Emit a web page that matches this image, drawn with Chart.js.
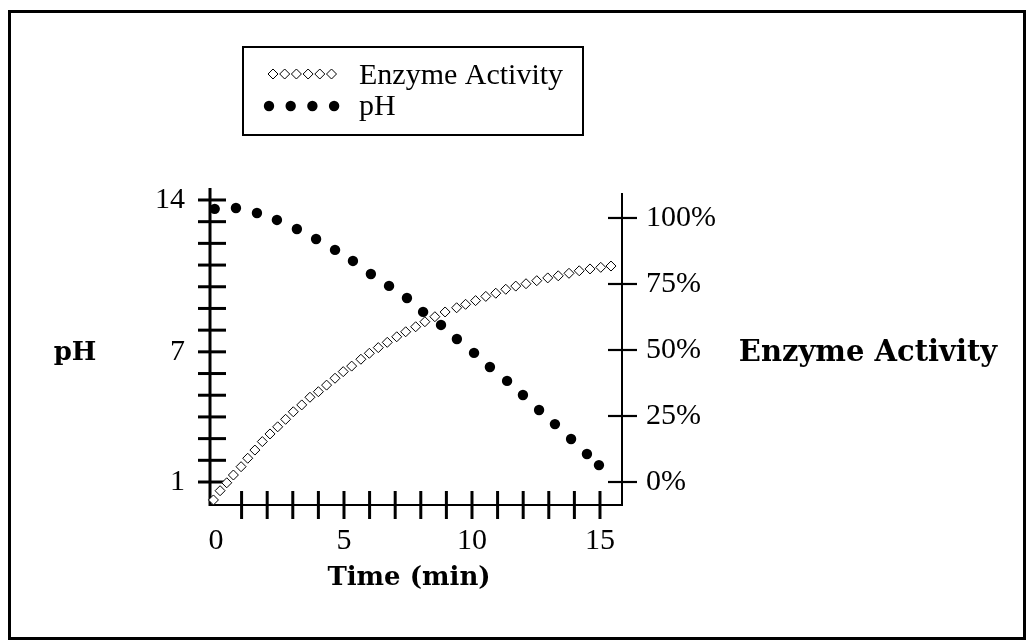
<!DOCTYPE html>
<html><head><meta charset="utf-8">
<script src="https://cdn.jsdelivr.net/npm/chart.js@4.4.1/dist/chart.umd.min.js"></script>
<style>html,body{margin:0;padding:0;background:#fff;}#wrap{position:relative;width:1030px;height:644px;}</style>
</head><body><div id="wrap"><canvas id="c" width="1030" height="644"></canvas></div>
<script>
// ---- data ----
const phTime   = [-0.05,0.78,1.60,2.38,3.16,3.91,4.65,5.35,6.05,6.76,7.46,8.09,8.79,9.41,10.08,10.70,11.37,11.99,12.62,13.24,13.87,14.49,14.96];
const phValues = [13.59,13.63,13.40,13.08,12.66,12.20,11.70,11.19,10.59,10.04,9.48,8.84,8.24,7.59,6.95,6.30,5.66,5.01,4.32,3.67,2.98,2.29,1.78];
const enzymeTime   = [-0.10,0.16,0.42,0.68,0.98,1.24,1.52,1.81,2.11,2.41,2.72,3.02,3.35,3.67,4.00,4.32,4.65,4.97,5.30,5.66,5.99,6.34,6.69,7.06,7.41,7.80,8.16,8.55,8.95,9.40,9.75,10.14,10.54,10.93,11.32,11.71,12.11,12.53,12.96,13.37,13.79,14.19,14.61,15.03,15.43];
const enzymeValues = [-6.8,-3.3,-0.3,2.65,5.8,9.0,12.1,15.3,18.2,20.9,23.75,26.6,29.2,32.1,34.2,36.7,39.3,41.8,43.9,46.5,48.75,50.9,52.9,55.0,56.9,58.8,60.7,62.6,64.4,66.0,67.3,68.7,70.3,71.5,73.0,74.2,75.1,76.25,77.3,78.1,79.05,80.0,80.7,81.3,81.8];
const timeTickValues   = [1,2,3,4,5,6,7,8,9,10,11,12,13,14,15];
const timeLabelValues  = [0,5,10,15];
const phTickValues     = [1,2,3,4,5,6,7,8,9,10,11,12,13,14];
const phLabelValues    = [1,7,14];
const enzymeTickValues = [0,25,50,75,100];
const seriesNames = ['Enzyme Activity','pH'];
const xTitle = 'Time (min)';
const yTitle = 'pH';
const y2Title = 'Enzyme Activity';

const tickFont = {family:'"Liberation Serif"', size:30};
const serif = '"DejaVu Serif"';

const decor = {
  id:'decor',
  beforeDatasetsDraw(chart){
    const ctx = chart.ctx, a = chart.chartArea, sx = chart.scales.x, sy = chart.scales.y, sr = chart.scales.yR;
    ctx.save();
    ctx.strokeStyle = '#000';
    ctx.lineCap = 'butt';
    ctx.lineWidth = 3;
    ctx.beginPath(); ctx.moveTo(a.left, a.top - 2); ctx.lineTo(a.left, a.bottom + 1); ctx.stroke();
    ctx.lineWidth = 2;
    ctx.beginPath(); ctx.moveTo(a.left, a.bottom); ctx.lineTo(a.right + 1, a.bottom); ctx.stroke();
    ctx.beginPath(); ctx.moveTo(a.right, a.top + 3); ctx.lineTo(a.right, a.bottom + 1); ctx.stroke();
    ctx.lineWidth = 3;
    phTickValues.forEach(v => {
      const y = sy.getPixelForValue(v);
      ctx.beginPath(); ctx.moveTo(a.left - 12, y); ctx.lineTo(a.left + 16, y); ctx.stroke();
    });
    timeTickValues.forEach(v => {
      const x = sx.getPixelForValue(v);
      ctx.beginPath(); ctx.moveTo(x, a.bottom - 14); ctx.lineTo(x, a.bottom + 14); ctx.stroke();
    });
    ctx.lineWidth = 2.2;
    enzymeTickValues.forEach(v => {
      const y = sr.getPixelForValue(v);
      ctx.beginPath(); ctx.moveTo(a.right - 14, y); ctx.lineTo(a.right + 15, y); ctx.stroke();
    });
    ctx.restore();
  },
  afterDraw(chart){
    const ctx = chart.ctx;
    ctx.save();
    ctx.strokeStyle = '#000'; ctx.lineWidth = 3;
    ctx.strokeRect(9.5, 11.5, 1015, 627);
    ctx.fillStyle = '#000';
    ctx.textBaseline = 'middle'; ctx.textAlign = 'center';
    ctx.font = 'bold 26px ' + serif;
    ctx.fillText(yTitle, 75, 353);
    ctx.fillText(xTitle, 409, 578);
    ctx.font = 'bold 29px ' + serif;
    ctx.fillText(y2Title, 868, 353);
    ctx.lineWidth = 2;
    ctx.strokeRect(243, 47, 340, 88);
    ctx.lineWidth = 1;
    for (let i = 0; i < 6; i++) {
      const cx = 273 + i * 11.7, cy = 74, r = 5;
      ctx.beginPath();
      ctx.moveTo(cx - r, cy); ctx.lineTo(cx, cy - r); ctx.lineTo(cx + r, cy); ctx.lineTo(cx, cy + r); ctx.closePath();
      ctx.fillStyle = '#fff'; ctx.fill(); ctx.stroke();
    }
    ctx.fillStyle = '#000';
    for (let i = 0; i < 4; i++) {
      ctx.beginPath(); ctx.arc(269 + i * 21.7, 106, 5.2, 0, Math.PI * 2); ctx.fill();
    }
    ctx.textAlign = 'left';
    ctx.font = '30px "Liberation Serif"';
    ctx.fillText(seriesNames[0], 359, 76);
    ctx.fillText(seriesNames[1], 359, 107);
    ctx.restore();
  }
};

new Chart(document.getElementById('c'), {
  type:'scatter',
  data:{
    datasets:[
      {label:seriesNames[1], data:phTime.map((t,i)=>({x:t,y:phValues[i]})), yAxisID:'y',
       showLine:false, pointRadius:5.2, pointBackgroundColor:'#000', pointBorderColor:'#000', pointBorderWidth:0, order:0, clip:false},
      {label:seriesNames[0], data:enzymeTime.map((t,i)=>({x:t,y:enzymeValues[i]})), yAxisID:'yR',
       showLine:false, pointStyle:'rectRot', pointRadius:5, pointBackgroundColor:'#fff', pointBorderColor:'#000', pointBorderWidth:1, order:1, clip:false}
    ]
  },
  options:{
    responsive:false, devicePixelRatio:1, animation:false,
    layout:{padding:{left:110, right:288, top:190, bottom:59}},
    plugins:{legend:{display:false}, tooltip:{enabled:false}},
    events:[],
    scales:{
      x:{type:'linear', min:-0.234, max:15.86,
         grid:{display:false}, border:{display:false},
         afterBuildTicks:s=>{s.ticks = timeLabelValues.map(v=>({value:v}));},
         ticks:{font:tickFont, color:'#000', padding:10, maxRotation:0, autoSkip:false, callback:v=>String(v)},
         afterFit:s=>{s.height = 80;}},
      y:{type:'linear', position:'left', min:-0.06, max:14.46,
         grid:{display:false}, border:{display:false},
         afterBuildTicks:s=>{s.ticks = phLabelValues.map(v=>({value:v}));},
         ticks:{font:tickFont, color:'#000', padding:17, autoSkip:false, callback:v=>String(v)},
         afterFit:s=>{s.width = 100;}},
      yR:{type:'linear', position:'right', min:-8.71, max:110.6,
         grid:{display:false}, border:{display:false},
         afterBuildTicks:s=>{s.ticks = enzymeTickValues.map(v=>({value:v}));},
         ticks:{font:tickFont, color:'#000', padding:16, autoSkip:false, callback:v=>v + '%'},
         afterFit:s=>{s.width = 120;}}
    }
  },
  plugins:[decor]
});
</script></body></html>
